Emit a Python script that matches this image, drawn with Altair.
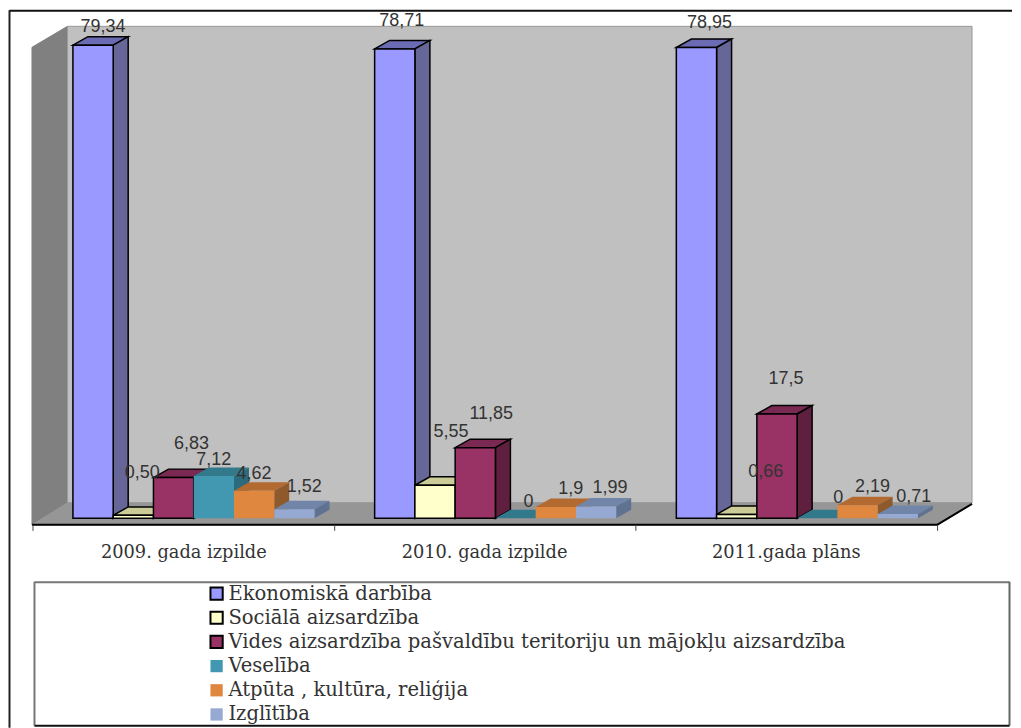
import altair as alt
import pandas as pd

# ---- data ----
categories = ["2009. gada izpilde", "2010. gada izpilde", "2011.gada plāns"]
series = [
    "Ekonomiskā darbība",
    "Sociālā aizsardzība",
    "Vides aizsardzība pašvaldību teritoriju un mājokļu aizsardzība",
    "Veselība",
    "Atpūta , kultūra, reliģija",
    "Izglītība",
]
values_2009 = [79.34, 0.50, 6.83, 7.12, 4.62, 1.52]
values_2010 = [78.71, 5.55, 11.85, 0, 1.9, 1.99]
values_2011 = [78.95, 0.66, 17.5, 0, 2.19, 0.71]
labels_2009 = ["79,34", "0,50", "6,83", "7,12", "4,62", "1,52"]
labels_2010 = ["78,71", "5,55", "11,85", "0", "1,9", "1,99"]
labels_2011 = ["78,95", "0,66", "17,5", "0", "2,19", "0,71"]

front_colors = ["#9999FF", "#FFFFCC", "#993366", "#4198B0", "#DF873F", "#95A9D3"]
top_colors = ["#6B6BB3", "#CCCC99", "#7A2952", "#33798C", "#B26A30", "#7085A8"]
side_colors = ["#666699", "#B3B38F", "#5F2040", "#2C6A7D", "#8F5A2B", "#5F7391"]
edge_colors = ["black", "black", "black", "transparent", "transparent", "transparent"]

# ---- layout constants (pixels of the page) ----
W, H = 1005, 720
PAGE = 8
ZERO_Y = 518.5
PX_PER_VALUE = 5.97
BAR_W = 40.3
GROUP_X = [73.0, 375.0, 677.0]
DEPTH_X, DEPTH_Y = 15.0, 8.5

x_domain = [PAGE, PAGE + W]
y_domain = [(ZERO_Y - (PAGE + H)) / PX_PER_VALUE, (ZERO_Y - PAGE) / PX_PER_VALUE]


def vy(py):
    """Picture row -> value on the y scale."""
    return (ZERO_Y - py) / PX_PER_VALUE


# label shifts from the top centre of each bar, in pixels (labels were dragged by hand)
label_shift = [
    [(10, -18), (9, -42.5), (18, -34), (0, -16), (0, -17), (10, -22)],
    [(7, -28), (16, -53), (16, -34), (13, -16.5), (15, -18), (14, -18)],
    [(13, -25), (29, -42), (9, -35), (21, -20.5), (15, -18), (16, -17)],
]

all_values = [values_2009, values_2010, values_2011]
all_labels = [labels_2009, labels_2010, labels_2011]

fronts, faces, texts = [], [], []
face_id = 0
for g, vals in enumerate(all_values):
    for s, v in enumerate(vals):
        x0 = GROUP_X[g] + s * BAR_W
        x1 = x0 + BAR_W
        d = DEPTH_Y / PX_PER_VALUE
        fronts.append(dict(series=series[s], x=x0, x2=x1, v=v, base=0.0))
        # top face
        for px, top, bot in [
            (x0, v, v),
            (x0 + DEPTH_X, v + d, v),
            (x1, v + d, v),
            (x1 + DEPTH_X, v + d, v + d),
        ]:
            faces.append(dict(face=face_id, x=px, top=top, bot=bot, fill=top_colors[s], edge=edge_colors[s]))
        face_id += 1
        # side face
        for px, top, bot in [(x1, v, 0.0), (x1 + DEPTH_X, v + d, d)]:
            faces.append(dict(face=face_id, x=px, top=top, bot=bot, fill=side_colors[s], edge=edge_colors[s]))
        face_id += 1
        sx, sy = label_shift[g][s]
        texts.append(dict(x=x0 + BAR_W / 2 + sx, y=v - sy / PX_PER_VALUE, t=all_labels[g][s]))

fronts = pd.DataFrame(fronts)
faces = pd.DataFrame(faces)
texts = pd.DataFrame(texts)

walls = pd.DataFrame(
    [
        dict(face=0, x=32, top=vy(47), bot=vy(525), fill="#808080", edge="#808080"),
        dict(face=0, x=67.5, top=vy(26), bot=vy(503), fill="#808080", edge="#808080"),
        dict(face=1, x=67.5, top=vy(26), bot=vy(503), fill="#C0C0C0", edge="#999999"),
        dict(face=1, x=973, top=vy(26), bot=vy(503), fill="#C0C0C0", edge="#999999"),
        dict(face=2, x=32, top=vy(525), bot=vy(525), fill="#969696", edge="#969696"),
        dict(face=2, x=67.5, top=vy(503), bot=vy(525), fill="#969696", edge="#969696"),
        dict(face=2, x=938, top=vy(503), bot=vy(525), fill="#969696", edge="#969696"),
        dict(face=2, x=973, top=vy(503), bot=vy(503), fill="#969696", edge="#969696"),
    ]
)

rules = pd.DataFrame(
    [
        # page frame
        dict(x=9.5, x2=9.5, y=vy(10), y2=vy(728), c="#222222", w=2),
        dict(x=9.5, x2=1013, y=vy(10.5), y2=vy(10.5), c="#111111", w=2),
        # legend box
        dict(x=34.5, x2=1010.5, y=vy(582.5), y2=vy(582.5), c="#777777", w=2),
        dict(x=34.5, x2=34.5, y=vy(582), y2=vy(726), c="#777777", w=2),
        dict(x=1010.5, x2=1010.5, y=vy(582), y2=vy(726), c="#666666", w=2),
        dict(x=34.5, x2=1010.5, y=vy(726), y2=vy(726), c="#111111", w=2),
        # axis
        dict(x=32, x2=938, y=vy(525), y2=vy(525), c="black", w=2),
        dict(x=938, x2=973, y=vy(525), y2=vy(504), c="black", w=2),
        dict(x=33, x2=33, y=vy(525), y2=vy(531), c="#444444", w=1),
        dict(x=335, x2=335, y=vy(525), y2=vy(531), c="#444444", w=1),
        dict(x=636.5, x2=636.5, y=vy(525), y2=vy(531), c="#444444", w=1),
        dict(x=938.5, x2=938.5, y=vy(525), y2=vy(531), c="#444444", w=1),
    ]
)

cat_df = pd.DataFrame({"x": [184, 485, 787], "y": [vy(553)] * 3, "t": categories})

X = alt.X("x:Q", scale=alt.Scale(domain=x_domain, nice=False, zero=False), axis=None)
Y_SCALE = alt.Scale(domain=y_domain, nice=False, zero=False)


def poly(df, stroke_w):
    return (
        alt.Chart(df)
        .mark_area(strokeWidth=stroke_w, clip=False, interpolate="linear")
        .encode(
            x=X,
            y=alt.Y("top:Q", scale=Y_SCALE, axis=None, stack=None),
            y2="bot:Q",
            fill=alt.Fill("fill:N", scale=None),
            stroke=alt.Stroke("edge:N", scale=None),
            detail="face:N",
        )
    )


wall_layer = poly(walls, 1)
face_layer = poly(faces, 1.5)

front_layer = (
    alt.Chart(fronts)
    .mark_bar(strokeWidth=1.5)
    .encode(
        x=X,
        x2="x2:Q",
        y=alt.Y("v:Q", scale=Y_SCALE, axis=None, stack=None),
        y2="base:Q",
        fill=alt.Fill(
            "series:N",
            scale=alt.Scale(domain=series, range=front_colors),
            legend=alt.Legend(
                title=None,
                orient="none",
                legendX=199,
                legendY=576,
                symbolType="square",
                symbolSize=150,
                symbolStrokeWidth=2,
                labelFont="DejaVu Serif",
                labelFontSize=19.6,
                labelColor="#333333",
                labelLimit=800,
                labelOffset=2,
                rowPadding=3.2,
                padding=0,
            ),
        ),
        stroke=alt.Stroke("series:N", scale=alt.Scale(domain=series, range=edge_colors)),
    )
)

rule_layer = (
    alt.Chart(rules)
    .mark_rule()
    .encode(
        x=X,
        x2="x2:Q",
        y=alt.Y("y:Q", scale=Y_SCALE, axis=None),
        y2="y2:Q",
        color=alt.Color("c:N", scale=None),
        strokeWidth=alt.StrokeWidth("w:Q", scale=None),
    )
)

value_text = (
    alt.Chart(texts)
    .mark_text(font="Liberation Sans", fontSize=18, color="#333333", align="center", baseline="middle")
    .encode(x=X, y=alt.Y("y:Q", scale=Y_SCALE, axis=None), text="t:N")
)

cat_text = (
    alt.Chart(cat_df)
    .mark_text(font="DejaVu Serif", fontSize=17.8, color="#333333", align="center", baseline="middle")
    .encode(x=X, y=alt.Y("y:Q", scale=Y_SCALE, axis=None), text="t:N")
)

chart = (
    alt.layer(wall_layer, face_layer, front_layer, rule_layer, value_text, cat_text)
    .resolve_scale(fill="independent", stroke="independent")
    .properties(width=W, height=H, padding=0, background="white")
    .configure_view(stroke=None)
)
chart.save("out.html", embed_options={"renderer": "svg", "actions": False})
